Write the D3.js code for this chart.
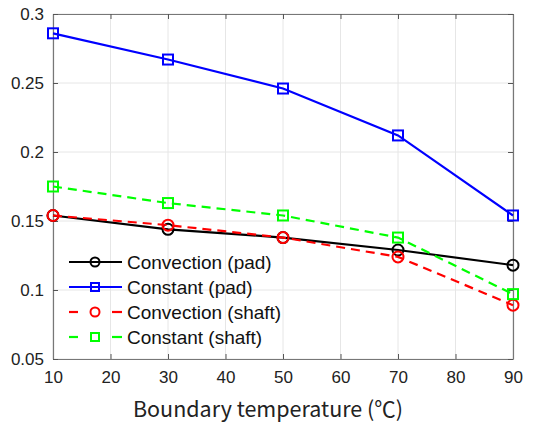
<!DOCTYPE html>
<html><head><meta charset="utf-8">
<script src="https://cdn.jsdelivr.net/npm/d3@7"></script>
<style>body{margin:0;background:#fff}svg{display:block}</style>
</head><body>
<svg id="c" width="541" height="426"></svg>
<script>
const temps = [10, 30, 50, 70, 90];
const convPad = [0.154, 0.144, 0.138, 0.129, 0.118];
const constPad = [0.286, 0.267, 0.246, 0.212, 0.154];
const convShaft = [0.154, 0.147, 0.138, 0.124, 0.089];
const constShaft = [0.175, 0.163, 0.154, 0.138, 0.097];
const xTicks = [10, 20, 30, 40, 50, 60, 70, 80, 90];
const yTicks = [0.05, 0.1, 0.15, 0.2, 0.25, 0.3];
const yTickLabels = ["0.05", "0.1", "0.15", "0.2", "0.25", "0.3"];
const seriesNames = ["Convection (pad)", "Constant (pad)", "Convection (shaft)", "Constant (shaft)"];

const series = [
  {name: seriesNames[0], values: convPad, color: "#000000", marker: "circle", dash: null},
  {name: seriesNames[1], values: constPad, color: "#0000ff", marker: "square", dash: null},
  {name: seriesNames[2], values: convShaft, color: "#ff0000", marker: "circle", dash: "9,6"},
  {name: seriesNames[3], values: constShaft, color: "#00ff00", marker: "square", dash: "9,6"}
];

const L = 53, R = 513, T = 14, B = 359;
const x = d3.scaleLinear().domain([10, 90]).range([L, R]);
const y = d3.scaleLinear().domain([0.05, 0.3]).range([B, T]);
const svg = d3.select("#c");
const font = "'Liberation Sans', Arial, sans-serif";

// grid
const g = svg.append("g");
g.selectAll(".gx").data(xTicks).enter().append("line")
  .attr("x1", d => x(d)).attr("x2", d => x(d)).attr("y1", T).attr("y2", B)
  .attr("stroke", "#e6e6e6").attr("stroke-width", 1);
g.selectAll(".gy").data(yTicks).enter().append("line")
  .attr("y1", d => y(d)).attr("y2", d => y(d)).attr("x1", L).attr("x2", R)
  .attr("stroke", "#e6e6e6").attr("stroke-width", 1);

// axes via d3 axis
const ax = svg.append("g").attr("transform", `translate(0,${B})`)
  .call(d3.axisBottom(x).tickValues(xTicks).tickSizeInner(-5).tickSizeOuter(0).tickPadding(12).tickFormat(d3.format("d")));
const axT = svg.append("g").attr("transform", `translate(0,${T})`)
  .call(d3.axisTop(x).tickValues(xTicks).tickSizeInner(-5).tickSizeOuter(0).tickFormat(""));
const ay = svg.append("g").attr("transform", `translate(${L},0)`)
  .call(d3.axisLeft(y).tickValues(yTicks).tickSizeInner(-5).tickSizeOuter(0).tickPadding(9).tickFormat((d, i) => yTickLabels[i]));
const ayR = svg.append("g").attr("transform", `translate(${R},0)`)
  .call(d3.axisRight(y).tickValues(yTicks).tickSizeInner(-5).tickSizeOuter(0).tickFormat(""));
[ax, axT, ay, ayR].forEach(a => {
  a.select(".domain").attr("stroke", "#777").attr("stroke-width", 1.2);
  a.selectAll(".tick line").attr("stroke", "#555");
  a.selectAll("text").attr("font-family", font).attr("font-size", 17).attr("fill", "#222");
});
ax.selectAll("text").attr("dy", "0.71em");

// lines
const line = d3.line().x((d, i) => x(temps[i])).y(d => y(d));
function drawMarker(sel, s, cx, cy) {
  if (s.marker === "circle") {
    sel.append("circle").attr("cx", cx).attr("cy", cy).attr("r", 5.5)
      .attr("fill", "none").attr("stroke", s.color).attr("stroke-width", 2);
  } else {
    sel.append("rect").attr("x", cx - 5).attr("y", cy - 5).attr("width", 10).attr("height", 10)
      .attr("fill", "none").attr("stroke", s.color).attr("stroke-width", 2);
  }
}
series.forEach(s => {
  const gs = svg.append("g");
  gs.append("path").datum(s.values).attr("d", line).attr("fill", "none")
    .attr("stroke", s.color).attr("stroke-width", 2.2)
    .attr("stroke-dasharray", s.dash);
  s.values.forEach((v, i) => drawMarker(gs, s, x(temps[i]), y(v)));
});

// legend
const legY = [262, 287, 312, 337];
series.forEach((s, i) => {
  const gl = svg.append("g");
  const yy = legY[i];
  if (s.dash) {
    gl.append("line").attr("x1", 69).attr("x2", 78).attr("y1", yy).attr("y2", yy).attr("stroke", s.color).attr("stroke-width", 2.2);
    gl.append("line").attr("x1", 112).attr("x2", 122).attr("y1", yy).attr("y2", yy).attr("stroke", s.color).attr("stroke-width", 2.2);
  } else {
    gl.append("line").attr("x1", 69).attr("x2", 122).attr("y1", yy).attr("y2", yy).attr("stroke", s.color).attr("stroke-width", 2.2);
  }
  if (s.marker === "circle") {
    gl.append("circle").attr("cx", 95).attr("cy", yy).attr("r", 4.5).attr("fill", "none").attr("stroke", s.color).attr("stroke-width", 2);
  } else {
    gl.append("rect").attr("x", 91).attr("y", yy - 4).attr("width", 8).attr("height", 8).attr("fill", "none").attr("stroke", s.color).attr("stroke-width", 2);
  }
  gl.append("text").attr("x", 127).attr("y", yy).attr("dy", "0.35em")
    .attr("font-family", font).attr("font-size", 19).attr("fill", "#111").text(s.name);
});

// x title
svg.append("text").attr("x", 268).attr("y", 417).attr("text-anchor", "middle")
  .attr("font-family", "'Noto Sans CJK KR', 'Noto Sans', sans-serif").attr("font-size", 21.5).attr("fill", "#222")
  .text("Boundary temperature (℃)");
</script>
</body></html>
